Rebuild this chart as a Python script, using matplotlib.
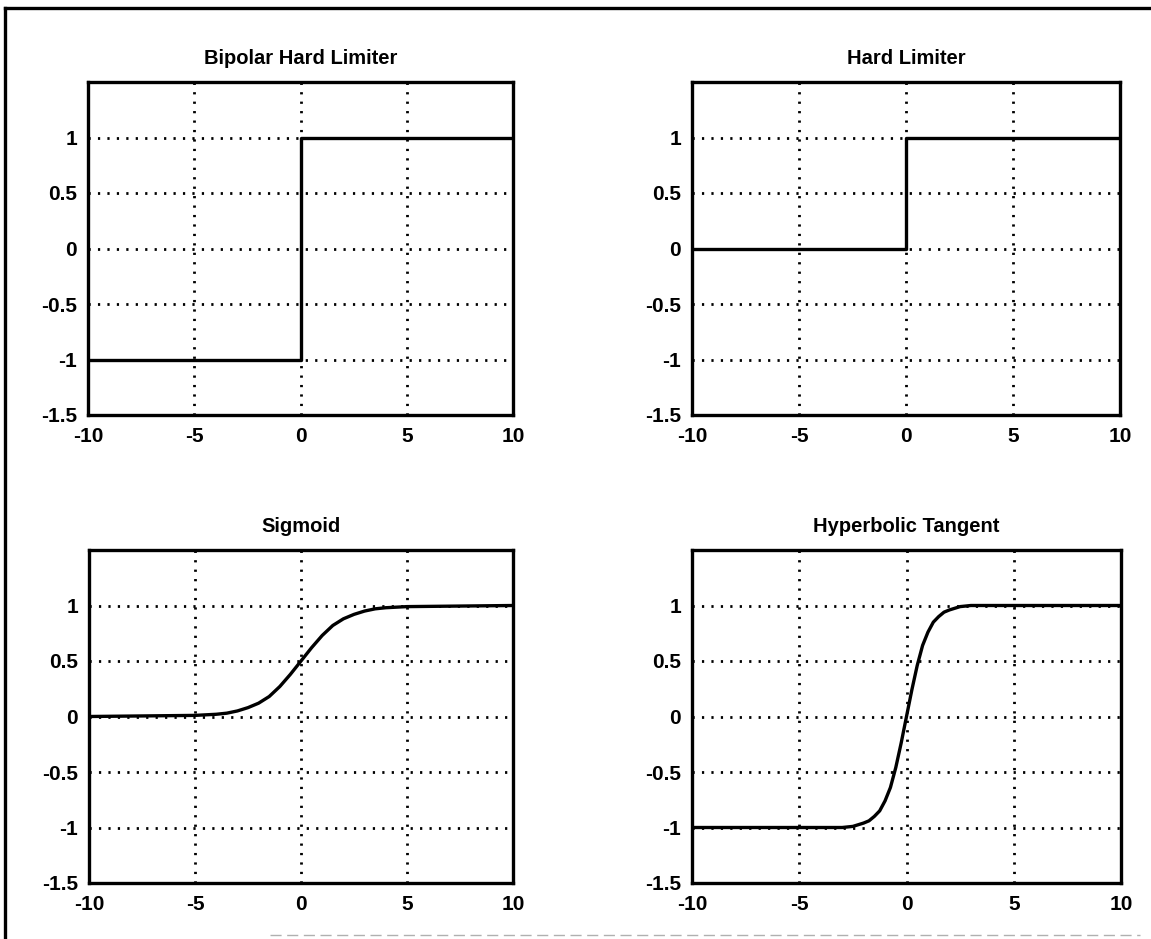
"""Quatro funções de ativação (degrau bipolar, degrau, sigmoide, tangente hiperbólica)."""

from __future__ import annotations

import matplotlib

matplotlib.use("Agg")
import matplotlib.pyplot as plt
from matplotlib.lines import Line2D

# dados
titles = ["Bipolar Hard Limiter", "Hard Limiter", "Sigmoid", "Hyperbolic Tangent"]

x_step = [-10, 0, 0, 10]
y_bipolar = [-1, -1, 1, 1]
y_hard = [0, 0, 1, 1]

x_sig = [-10, -5, -4, -3.5, -3, -2.5, -2, -1.5, -1, -0.5, 0,
         0.5, 1, 1.5, 2, 2.5, 3, 3.5, 4, 5, 10]
y_sig = [0, 0.01, 0.02, 0.03, 0.05, 0.08, 0.12, 0.18, 0.27, 0.38, 0.5,
         0.62, 0.73, 0.82, 0.88, 0.92, 0.95, 0.97, 0.98, 0.99, 1.0]

x_tanh = [-10, -3, -2.5, -2, -1.75, -1.5, -1.25, -1, -0.75, -0.5, -0.25, 0,
          0.25, 0.5, 0.75, 1, 1.25, 1.5, 1.75, 2, 2.5, 3, 10]
y_tanh = [-1, -1, -0.99, -0.96, -0.94, -0.9, -0.85, -0.76, -0.64, -0.46, -0.24, 0,
          0.24, 0.46, 0.64, 0.76, 0.85, 0.9, 0.94, 0.96, 0.99, 1, 1]

x_ticks = [-10, -5, 0, 5, 10]
y_ticks = [-1.5, -1, -0.5, 0, 0.5, 1]
y_tick_labels = ["-1.5", "-1", "-0.5", "0", "0.5", "1"]

W, H = 1151, 939
# caixas dos eixos em pixels: (esquerda, topo, direita, base)
BOXES = [
    (88, 82, 513, 415),
    (692, 82, 1120, 415),
    (89, 550, 513, 883),
    (692, 550, 1121, 883),
]

TICK_FONT = dict(family="Liberation Sans", weight="bold", size=15)
TITLE_FONT = dict(family="Liberation Sans", weight="bold", size=14.5)


def _rect(box):
    l, t, r, b = box
    return [l / W, 1 - b / H, (r - l) / W, (b - t) / H]


def _setup_axes(ax, title):
    ax.set_xlim(-10, 10)
    ax.set_ylim(-1.5, 1.5)
    ax.set_xticks(x_ticks)
    ax.set_xticklabels([str(v) for v in x_ticks], fontdict=TICK_FONT)
    ax.set_yticks(y_ticks)
    ax.set_yticklabels(y_tick_labels, fontdict=TICK_FONT)
    ax.tick_params(axis="both", length=0)
    ax.tick_params(axis="x", pad=9)
    ax.tick_params(axis="y", pad=8)
    ax.grid(True, color="black", linestyle=(0, (0.8, 2.6)), linewidth=2.0)
    for sp in ax.spines.values():
        sp.set_linewidth(2.4)
        sp.set_color("black")
    ax.set_title(title, fontdict=TITLE_FONT, pad=13)


def main() -> int:
    fig = plt.figure(figsize=(W / 100, H / 100), dpi=100)

    series = [
        (x_step, y_bipolar),
        (x_step, y_hard),
        (x_sig, y_sig),
        (x_tanh, y_tanh),
    ]
    for box, title, (xs, ys) in zip(BOXES, titles, series):
        ax = fig.add_axes(_rect(box))
        _setup_axes(ax, title)
        ax.plot(xs, ys, color="black", linewidth=2.4, solid_joinstyle="round")

    # moldura da figura digitalizada (topo e esquerda)
    fig.add_artist(Line2D([5 / W, 1], [1 - 8 / H, 1 - 8 / H], color="black",
                          linewidth=2.4, transform=fig.transFigure))
    fig.add_artist(Line2D([5 / W, 5 / W], [0, 1 - 8 / H], color="black",
                          linewidth=2.4, transform=fig.transFigure))
    fig.add_artist(Line2D([270 / W, 1140 / W], [1 - 935 / H, 1 - 935 / H], color="#b0b0b0",
                          linewidth=1.0, linestyle=(0, (8, 4)), transform=fig.transFigure))

    fig.savefig("out.png", dpi=100, facecolor="white")
    plt.close(fig)
    return 0


if __name__ == "__main__":
    raise SystemExit(main())
